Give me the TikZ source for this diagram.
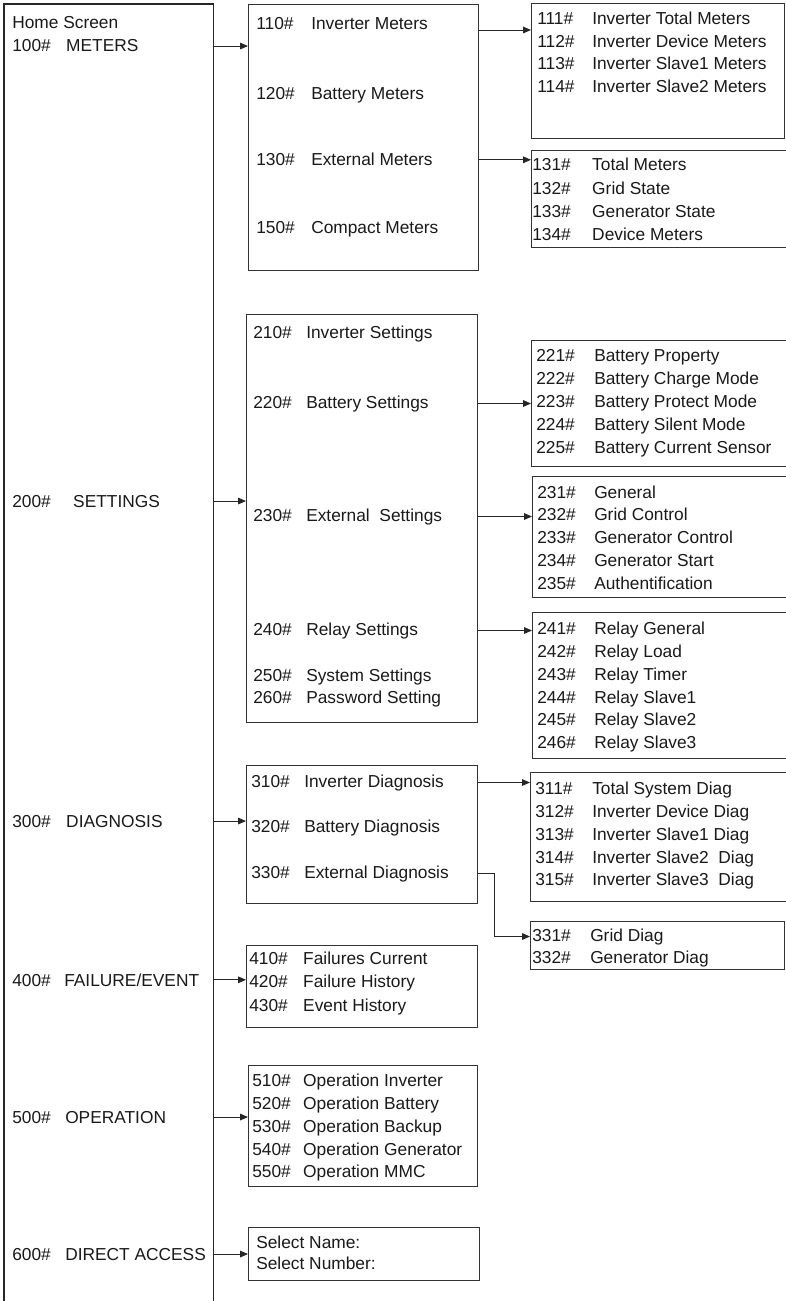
\documentclass[tikz,border=0pt]{standalone}
\usepackage{fontspec}
\setmainfont{Liberation Sans}
\usepackage{tikz}
\usetikzlibrary{shapes,arrows.meta}

\tikzset{
  box/.style={draw=black!80, line width=0.9pt, rectangle, anchor=north west, inner sep=0pt},
  lbl/.style={anchor=base west, inner sep=0pt, text=black!90},
  arw/.style={-{Triangle[length=6pt,width=5pt]}, line width=0.7pt, draw=black!85},
}
\newcommand{\entry}[3]{\makebox[#1][l]{#2\#}#3}

\begin{document}
\begin{tikzpicture}[x=0.75pt,y=0.75pt,yscale=-1,xscale=1,font=\fontsize{13pt}{16pt}\selectfont]

\useasboundingbox (0,0) rectangle (785,1301);

% Home column, open at the bottom
\node[box, draw=none, minimum width=156pt, minimum height=982.5pt] (home) at (4,4) {};
\draw[line width=0.9pt, black!85] (home.south west) -- (home.north west) -- (home.north east) -- (home.south east);

\node[lbl] (thome) at (12,29) {Home Screen};
\node[lbl] (t100) at (12,52) {\entry{40.5pt}{100}{METERS}};
\node[lbl] (t200) at (12,507) {\entry{45.75pt}{200}{SETTINGS}};
\node[lbl] (t300) at (12,827) {\entry{40.5pt}{300}{DIAGNOSIS}};
\node[lbl] (t400) at (12,986) {\entry{39pt}{400}{FAILURE/EVENT}};
\node[lbl] (t500) at (12,1123) {\entry{39.75pt}{500}{OPERATION}};
\node[lbl] (t600) at (12,1260) {\entry{39.75pt}{600}{DIRECT ACCESS}};

% Meters
\node[box, minimum width=172.5pt, minimum height=199.5pt] (m1) at (248,4) {};
\node[lbl] (t110) at (256,30) {\entry{41.25pt}{110}{Inverter Meters}};
\node[lbl] (t120) at (256,100) {\entry{41.25pt}{120}{Battery Meters}};
\node[lbl] (t130) at (256,166) {\entry{41.25pt}{130}{External Meters}};
\node[lbl] (t150) at (256,234) {\entry{41.25pt}{150}{Compact Meters}};

\node[box, minimum width=189.75pt, minimum height=101.25pt] (m11) at (531,3) {};
\node[lbl] (t111) at (537,25) {\entry{41.25pt}{111}{Inverter Total Meters}};
\node[lbl] (t112) at (537,48) {\entry{41.25pt}{112}{Inverter Device Meters}};
\node[lbl] (t113) at (537,70) {\entry{41.25pt}{113}{Inverter Slave1 Meters}};
\node[lbl] (t114) at (537,93) {\entry{41.25pt}{114}{Inverter Slave2 Meters}};

\node[box, minimum width=195pt, minimum height=72.75pt] (m13) at (531,150) {};
\node[lbl] (t131) at (532,171) {\entry{45pt}{131}{Total Meters}};
\node[lbl] (t132) at (532,195) {\entry{45pt}{132}{Grid State}};
\node[lbl] (t133) at (532,218) {\entry{45pt}{133}{Generator State}};
\node[lbl] (t134) at (532,241) {\entry{45pt}{134}{Device Meters}};

% Settings
\node[box, minimum width=173.25pt, minimum height=306pt] (m2) at (246,314) {};
\node[lbl] (t210) at (253,339) {\entry{39.75pt}{210}{Inverter Settings}};
\node[lbl] (t220) at (253,408) {\entry{39.75pt}{220}{Battery Settings}};
\node[lbl] (t230) at (253,521) {\entry{39.75pt}{230}{External~ Settings}};
\node[lbl] (t240) at (253,635) {\entry{39.75pt}{240}{Relay Settings}};
\node[lbl] (t250) at (253,681) {\entry{39.75pt}{250}{System Settings}};
\node[lbl] (t260) at (253,703) {\entry{39.75pt}{260}{Password Setting}};

\node[box, minimum width=195pt, minimum height=94.5pt] (m22) at (531,340) {};
\node[lbl] (t221) at (536,362) {\entry{43.5pt}{221}{Battery Property}};
\node[lbl] (t222) at (536,384) {\entry{43.5pt}{222}{Battery Charge Mode}};
\node[lbl] (t223) at (536,407) {\entry{43.5pt}{223}{Battery Protect Mode}};
\node[lbl] (t224) at (536,430) {\entry{43.5pt}{224}{Battery Silent Mode}};
\node[lbl] (t225) at (536,453) {\entry{43.5pt}{225}{Battery Current Sensor}};

\node[box, minimum width=195pt, minimum height=90.75pt] (m23) at (532,476) {};
\node[lbl] (t231) at (537,498) {\entry{42.75pt}{231}{General}};
\node[lbl] (t232) at (537,520) {\entry{42.75pt}{232}{Grid Control}};
\node[lbl] (t233) at (537,543) {\entry{42.75pt}{233}{Generator Control}};
\node[lbl] (t234) at (537,566) {\entry{42.75pt}{234}{Generator Start}};
\node[lbl] (t235) at (537,589) {\entry{42.75pt}{235}{Authentification}};

\node[box, minimum width=195pt, minimum height=109.5pt] (m24) at (532,612) {};
\node[lbl] (t241) at (537,634) {\entry{42.75pt}{241}{Relay General}};
\node[lbl] (t242) at (537,657) {\entry{42.75pt}{242}{Relay Load}};
\node[lbl] (t243) at (537,680) {\entry{42.75pt}{243}{Relay Timer}};
\node[lbl] (t244) at (537,703) {\entry{42.75pt}{244}{Relay Slave1}};
\node[lbl] (t245) at (537,725) {\entry{42.75pt}{245}{Relay Slave2}};
\node[lbl] (t246) at (537,748) {\entry{42.75pt}{246}{Relay Slave3}};

% Diagnosis
\node[box, minimum width=173.25pt, minimum height=103.5pt] (m3) at (246,765) {};
\node[lbl] (t310) at (251,787) {\entry{39.75pt}{310}{Inverter Diagnosis}};
\node[lbl] (t320) at (251,832) {\entry{39.75pt}{320}{Battery Diagnosis}};
\node[lbl] (t330) at (251,878) {\entry{39.75pt}{330}{External Diagnosis}};

\node[box, minimum width=195pt, minimum height=96.75pt] (m31) at (530,772) {};
\node[lbl] (t311) at (535,794) {\entry{42.75pt}{311}{Total System Diag}};
\node[lbl] (t312) at (535,817) {\entry{42.75pt}{312}{Inverter Device Diag}};
\node[lbl] (t313) at (535,840) {\entry{42.75pt}{313}{Inverter Slave1 Diag}};
\node[lbl] (t314) at (535,863) {\entry{42.75pt}{314}{Inverter Slave2~ Diag}};
\node[lbl] (t315) at (535,885) {\entry{42.75pt}{315}{Inverter Slave3~ Diag}};

\node[box, minimum width=190.5pt, minimum height=36pt] (m33) at (530,921) {};
\node[lbl] (t331) at (532,941) {\entry{43.5pt}{331}{Grid Diag}};
\node[lbl] (t332) at (532,963) {\entry{43.5pt}{332}{Generator Diag}};

% Failure / event
\node[box, minimum width=173.25pt, minimum height=61.5pt] (m4) at (246,945) {};
\node[lbl] (t410) at (249,964) {\entry{40.5pt}{410}{Failures Current}};
\node[lbl] (t420) at (249,987) {\entry{40.5pt}{420}{Failure History}};
\node[lbl] (t430) at (249,1011) {\entry{40.5pt}{430}{Event History}};

% Operation
\node[box, minimum width=171.75pt, minimum height=90.75pt] (m5) at (248,1065) {};
\node[lbl] (t510) at (252,1086) {\entry{38.25pt}{510}{Operation Inverter}};
\node[lbl] (t520) at (252,1109) {\entry{38.25pt}{520}{Operation Battery}};
\node[lbl] (t530) at (252,1132) {\entry{38.25pt}{530}{Operation Backup}};
\node[lbl] (t540) at (252,1155) {\entry{38.25pt}{540}{Operation Generator}};
\node[lbl] (t550) at (252,1177) {\entry{38.25pt}{550}{Operation MMC}};

% Direct access
\node[box, minimum width=173.25pt, minimum height=39.75pt] (m6) at (248,1227) {};
\node[lbl] (tname) at (256,1248) {Select Name:};
\node[lbl] (tnum) at (256,1269) {Select Number:};

% Connectors
\draw[arw] (home.east |- t100) -- (m1.west |- t100);
\draw[arw] (m1.east |- t110.base) -- (m11.west |- t110.base);
\draw[arw] (m1.east |- t130) -- (m13.west |- t130);
\draw[arw] (home.east |- t200) -- (m2.west |- t200);
\draw[arw] (m2.east |- t220) -- (m22.west |- t220);
\draw[arw] (m2.east |- t230) -- (m23.west |- t230);
\draw[arw] (m2.east |- t240) -- (m24.west |- t240);
\draw[arw] (home.east |- t300) -- (m3.west |- t300);
\draw[arw] (m3.east |- t310) -- (m31.west |- t310);
\draw[arw] (m3.east |- t330) -- ([xshift=12pt]m3.east |- t330) |- (m33.west |- t331);
\draw[arw] (home.east |- t400) -- (m4.west |- t400);
\draw[arw] (home.east |- t500) -- (m5.west |- t500);
\draw[arw] (home.east |- t600) -- (m6.west |- t600);

\end{tikzpicture}
\end{document}
